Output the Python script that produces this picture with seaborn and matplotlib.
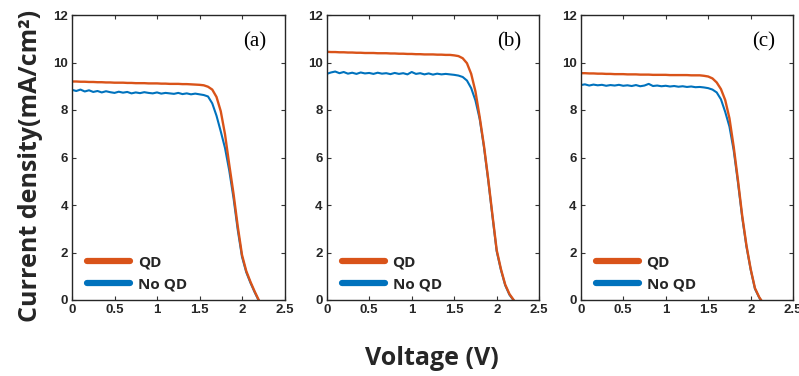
import matplotlib
matplotlib.use("Agg")
import matplotlib.pyplot as plt
import seaborn as sns
import pandas as pd
from matplotlib.lines import Line2D

# ---- data ----
V = [0.00, 0.05, 0.10, 0.15, 0.20, 0.25, 0.30, 0.35, 0.40, 0.45,
     0.50, 0.55, 0.60, 0.65, 0.70, 0.75, 0.80, 0.85, 0.90, 0.95,
     1.00, 1.05, 1.10, 1.15, 1.20, 1.25, 1.30, 1.35, 1.40, 1.45,
     1.50, 1.55, 1.60, 1.65, 1.70, 1.75, 1.80, 1.85, 1.90, 1.95,
     2.00, 2.05, 2.10, 2.15, 2.20, 2.25]

J_a_qd = [9.20, 9.20, 9.19, 9.19, 9.18, 9.18, 9.17, 9.17, 9.16, 9.16,
          9.15, 9.15, 9.15, 9.14, 9.14, 9.13, 9.13, 9.13, 9.12, 9.12,
          9.12, 9.11, 9.11, 9.10, 9.10, 9.10, 9.09, 9.09, 9.08, 9.07,
          9.06, 9.04, 8.98, 8.86, 8.55, 7.95, 6.98, 5.70, 4.48, 3.10,
          1.90, 1.22, 0.76, 0.35, -0.02, -0.40]
J_a_nq = [8.85, 8.80, 8.86, 8.78, 8.83, 8.76, 8.80, 8.74, 8.79, 8.75,
          8.72, 8.77, 8.73, 8.76, 8.70, 8.74, 8.71, 8.75, 8.72, 8.70,
          8.74, 8.69, 8.72, 8.70, 8.68, 8.72, 8.67, 8.70, 8.66, 8.69,
          8.66, 8.63, 8.57, 8.28, 7.76, 7.10, 6.40, 5.45, 4.30, 2.95,
          1.82, 1.17, 0.72, 0.32, -0.05, -0.40]

J_b_qd = [10.45, 10.44, 10.44, 10.43, 10.43, 10.42, 10.42, 10.41, 10.41, 10.40,
          10.40, 10.40, 10.39, 10.39, 10.39, 10.38, 10.38, 10.37, 10.37, 10.36,
          10.36, 10.35, 10.35, 10.34, 10.34, 10.34, 10.33, 10.33, 10.32, 10.32,
          10.30, 10.27, 10.18, 9.97, 9.52, 8.78, 7.70, 6.50, 5.10, 3.58,
          2.10, 1.30, 0.65, 0.25, 0.00, -0.30]
J_b_nq = [9.52, 9.58, 9.62, 9.55, 9.60, 9.53, 9.57, 9.52, 9.58, 9.54,
          9.56, 9.52, 9.57, 9.53, 9.55, 9.51, 9.56, 9.52, 9.55, 9.50,
          9.60, 9.52, 9.55, 9.50, 9.54, 9.49, 9.53, 9.50, 9.52, 9.50,
          9.48, 9.45, 9.39, 9.24, 8.92, 8.40, 7.62, 6.44, 5.04, 3.52,
          2.05, 1.26, 0.62, 0.22, -0.02, -0.30]

J_c_qd = [9.55, 9.55, 9.54, 9.54, 9.53, 9.53, 9.52, 9.52, 9.51, 9.51,
          9.51, 9.50, 9.50, 9.50, 9.49, 9.49, 9.49, 9.48, 9.48, 9.48,
          9.48, 9.47, 9.47, 9.47, 9.47, 9.47, 9.46, 9.46, 9.46, 9.44,
          9.41, 9.33, 9.16, 8.88, 8.42, 7.65, 6.45, 5.05, 3.55, 2.30,
          1.30, 0.50, 0.12, -0.15, -0.40, -0.60]
J_c_nq = [9.05, 9.08, 9.03, 9.07, 9.04, 9.06, 9.02, 9.05, 9.03, 9.06,
          9.02, 9.04, 9.01, 9.05, 9.00, 9.03, 9.10, 9.01, 9.03, 9.00,
          9.02, 8.99, 9.01, 8.98, 9.00, 8.97, 8.99, 8.96, 8.97, 8.95,
          8.92, 8.86, 8.74, 8.45, 7.92, 7.30, 6.30, 4.95, 3.48, 2.25,
          1.27, 0.47, 0.10, -0.17, -0.40, -0.60]

panel_labels = ["(a)", "(b)", "(c)"]
series_names = ["QD", "No QD"]
x_ticks = [0, 0.5, 1, 1.5, 2, 2.5]
x_ticklabels = ["0", "0.5", "1", "1.5", "2", "2.5"]
y_ticks = [0, 2, 4, 6, 8, 10, 12]

C_QD = "#D95319"
C_NQ = "#0072BD"

sns.set_theme(style="ticks")
plt.rcParams["font.family"] = ["Liberation Sans", "DejaVu Sans"]

fig = plt.figure(figsize=(7.99, 3.76), dpi=100)
lefts = [72 / 799, 326.7 / 799, 580.7 / 799]
width = 212.5 / 799
bottom = 76 / 376
height = 285 / 376

panels = [(J_a_qd, J_a_nq), (J_b_qd, J_b_nq), (J_c_qd, J_c_nq)]
for i, (jq, jn) in enumerate(panels):
    ax = fig.add_axes([lefts[i], bottom, width, height])
    df = pd.DataFrame({"V": V, "QD": jq, "No QD": jn})
    sns.lineplot(data=df, x="V", y="No QD", ax=ax, color=C_NQ, lw=1.5, sort=False)
    sns.lineplot(data=df, x="V", y="QD", ax=ax, color=C_QD, lw=1.7, sort=False)
    ax.set_xlim(0, 2.5)
    ax.set_ylim(0, 12)
    ax.set_xticks(x_ticks)
    ax.set_xticklabels(x_ticklabels)
    ax.set_yticks(y_ticks)
    ax.set_xlabel("")
    ax.set_ylabel("")
    ax.tick_params(direction="in", top=True, right=True, length=3, width=0.8,
                   labelsize=9.5, colors="#333333", pad=3)
    for lab in ax.get_xticklabels() + ax.get_yticklabels():
        lab.set_fontweight("bold")
        lab.set_color("#262626")
    for sp in ax.spines.values():
        sp.set_color("#262626")
        sp.set_linewidth(1.0)
    ax.text(0.86, 0.905, panel_labels[i], transform=ax.transAxes, ha="center", va="center",
            fontsize=15, family=["Liberation Serif", "DejaVu Serif"], color="black")
    handles = [Line2D([0], [0], color=C_QD, lw=4.5),
               Line2D([0], [0], color=C_NQ, lw=4.5)]
    ax.legend(handles, series_names, loc="lower left", frameon=False,
              bbox_to_anchor=(0.008, -0.018), handlelength=2.8, handletextpad=0.5,
              labelspacing=0.5, prop={"weight": "bold", "size": 11,
                                      "family": ["Open Sans", "DejaVu Sans"]})

fig.text(0.038, 0.5585, "Current density(mA/cm²)", rotation=90, ha="center", va="center",
         fontsize=18, fontweight="bold", family=["Open Sans", "DejaVu Sans"])
fig.text(0.54, 0.047, "Voltage (V)", ha="center", va="center",
         fontsize=18, fontweight="bold", family=["Open Sans", "DejaVu Sans"])

fig.savefig("out.png", dpi=100)
